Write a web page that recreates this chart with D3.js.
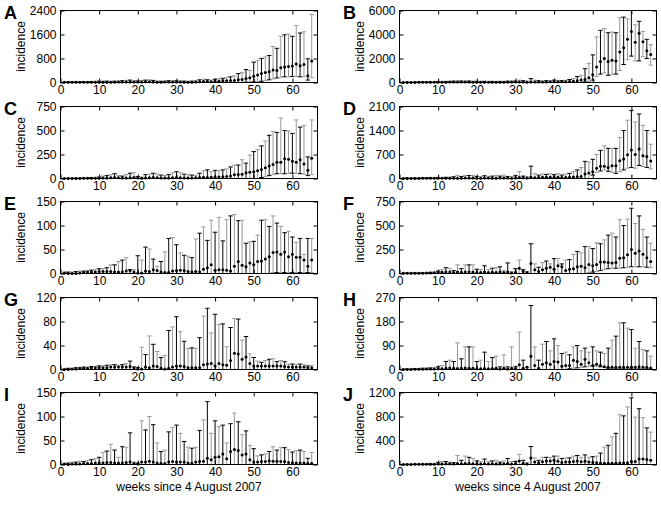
<!DOCTYPE html>
<html>
<head>
<meta charset="utf-8">
<script src="https://cdn.jsdelivr.net/npm/d3@7"></script>
<style>
  html, body { margin: 0; padding: 0; background: #fff; }
  svg { display: block; font-family: "Liberation Sans", Arial, sans-serif; }
</style>
</head>
<body>
<svg id="chart" width="661" height="515"></svg>
<script>
// ---------------- DATA ----------------
const weeks = [1,2,3,4,5,6,7,8,9,10,11,12,13,14,15,16,17,18,19,20,21,22,23,24,25,26,27,28,29,30,31,32,33,34,35,36,37,38,39,40,41,42,43,44,45,46,47,48,49,50,51,52,53,54,55,56,57,58,59,60,61,62,63,64,65];
const xTicks = [0,10,20,30,40,50,60];
const panelLabels = ["A","B","C","D","E","F","G","H","I","J"];
const yTicks = [
  [0,800,1600,2400], [0,2000,4000,6000],
  [0,250,500,750],   [0,700,1400,2100],
  [0,50,100,150],    [0,250,500,750],
  [0,40,80,120],     [0,90,180,270],
  [0,50,100,150],    [0,400,800,1200]
];
const yAxisTitle = "incidence";
const xAxisTitle = "weeks since 4 August 2007";

// Panel A
const ptA = [5,5,5,5,6,8,8,8,10,10, 10,10,12,12,15,15,18,20,15,15, 20,25,25,20,12,10,15,20,20,18, 15,12,10,12,15,25,35,30,25,40, 45,55,60,70,70,90,100,130,160,210, 250,300,330,360,415,400,490,515,530,550, 620,560,600,225,720];
const hiA = [20,20,20,25,25,30,30,35,40,45, 45,45,40,45,50,60,70,80,60,50, 70,80,90,70,50,40,50,60,60,55, 50,45,40,45,60,90,110,90,80,110, 120,140,170,190,220,300,330,430,400,680, 740,800,850,900,1200,1140,1540,1590,1610,1540, 1900,1650,1690,790,2270];
const loA = [0,0,0,0,0,0,0,0,0,0, 0,0,0,0,0,0,0,0,0,0, 0,0,0,0,0,0,0,0,0,0, 0,0,0,0,0,0,0,0,0,0, 0,0,0,0,0,0,5,10,15,20, 30,40,60,90,120,150,180,190,190,200, 200,190,190,80,160];
// Panel B
const ptB = [10,10,10,10,15,15,20,20,25,30, 30,30,35,35,40,40,40,35,30,30, 30,30,30,30,30,30,30,35,35,40, 40,35,30,50,40,40,45,50,55,60, 60,60,70,80,100,150,200,250,400,650, 1300,1750,2000,1750,1850,1800,2550,2900,3600,4250, 3350,4100,3400,2650,2330];
const hiB = [30,30,35,40,45,50,55,60,70,80, 90,90,100,110,130,120,130,120,110,100, 100,100,90,90,90,90,100,110,120,120, 200,150,120,320,200,150,120,150,150,200, 150,150,180,250,330,500,600,1150,1600,2300, 3800,4350,4500,4150,4200,4150,5400,5450,5300,6000, 4800,5100,4250,3600,3150];
const loB = [0,0,0,0,0,0,0,0,0,0, 0,0,0,0,0,0,0,0,0,0, 0,0,0,0,0,0,0,0,0,0, 0,0,0,0,0,0,0,0,0,0, 0,0,0,0,0,0,0,50,100,200, 500,700,800,600,650,700,1000,1500,1900,2200, 1800,1800,2150,2000,1450];
// Panel C
const ptC = [1,1,1,1,1,2,2,2,3,3, 5,6,8,10,8,6,5,8,10,4, 3,5,8,10,8,6,4,5,8,10, 8,6,5,5,8,10,12,10,12,15, 15,18,20,25,40,42,45,60,65,70, 80,95,113,130,145,170,170,205,200,180, 170,195,150,85,210];
const hiC = [3,3,4,4,5,6,8,10,12,15, 25,30,40,50,30,25,40,55,60,20, 15,40,45,55,45,35,30,40,60,70, 60,45,40,35,35,55,80,90,70,85, 80,90,100,120,140,140,195,160,245,280, 300,340,390,450,490,480,630,500,495,470, 610,535,550,225,610];
const loC = [0,0,0,0,0,0,0,0,0,0, 0,0,0,0,0,0,0,0,0,0, 0,0,0,0,0,0,0,0,0,0, 0,0,0,0,0,0,0,0,0,0, 0,0,0,0,0,0,0,0,0,0, 0,10,20,30,40,50,50,50,55,55, 55,50,45,30,40];
// Panel D
const ptD = [3,3,3,3,3,4,4,5,5,5, 6,6,8,8,10,10,12,12,12,10, 10,12,12,10,10,12,15,15,10,12, 30,20,15,40,25,30,35,40,40,35, 35,30,30,40,45,50,60,130,160,200, 300,355,355,320,375,375,520,570,690,830, 700,860,660,640,510];
const hiD = [15,15,15,15,18,20,20,25,25,30, 30,35,40,50,90,60,90,85,90,60, 60,80,60,70,90,70,100,60,60,80, 200,70,50,360,140,100,130,120,140,110, 140,100,130,150,200,250,320,500,480,560, 700,820,950,880,880,880,1200,1400,1700,1980, 1650,1880,1550,1400,1000];
const loD = [0,0,0,0,0,0,0,0,0,0, 0,0,0,0,0,0,0,0,0,0, 0,0,0,0,0,0,0,0,0,0, 0,0,0,0,0,0,0,0,0,0, 0,0,0,0,0,0,0,0,0,100, 180,220,250,210,180,150,200,250,300,320, 300,380,350,320,280];
// Panel E
const ptE = [1,0,0,0,1,2,3,3,3,4, 4,4,4,3,3,3,5,6,3,1, 1,5,4,8,6,3,2,2,5,6, 7,6,4,3,4,3,9,12,18,7, 8,8,7,5,15,25,17,14,22,18, 25,26,30,35,44,45,40,45,35,40, 34,34,28,15,28];
const hiE = [3,3,3,4,5,5,6,7,8,10, 10,12,18,18,25,28,33,8,8,37, 28,55,51,30,15,25,45,73,75,60, 43,38,36,33,72,84,97,69,111,86, 117,68,112,120,123,110,111,63,66,67, 80,111,112,98,120,105,98,85,88,76, 65,73,40,73,73];
const loE = [0,0,0,0,0,0,0,0,0,0, 0,0,0,0,0,0,0,0,0,0, 0,0,0,0,0,0,0,0,0,0, 0,0,0,0,0,0,0,0,0,0, 0,0,0,0,0,0,0,0,0,0, 0,0,0,0,2,2,2,2,2,2, 2,2,2,2,2];
// Panel F
const ptF = [2,2,2,2,3,3,4,5,8,10, 12,15,15,10,15,12,15,15,15,10, 10,15,10,12,10,15,10,15,5,10, 55,20,10,105,40,20,40,55,65,45, 80,70,30,45,50,70,75,60,95,80, 95,120,120,115,110,115,160,165,195,250, 210,235,200,165,125];
const hiF = [5,5,5,6,8,8,10,12,15,25, 40,60,55,30,90,50,90,90,90,45, 40,80,40,55,60,70,30,110,20,50, 140,40,20,310,100,65,115,130,100,155, 155,100,140,145,200,230,215,280,280,260, 320,310,350,400,420,380,560,500,565,680, 520,600,460,380,315];
const loF = [0,0,0,0,0,0,0,0,0,0, 0,0,0,0,0,0,0,0,0,0, 0,0,0,0,0,0,0,0,0,0, 0,0,0,0,0,0,0,0,0,0, 0,0,0,0,0,0,0,0,10,15, 20,30,40,50,55,55,55,60,65,70, 70,70,70,65,60];
// Panel G
const ptG = [0,0,1,1,2,2,2,3,3,3, 3,3,4,4,4,4,4,5,3,1, 1,4,3,6,5,2,1,2,4,6, 6,5,3,3,3,3,8,9,10,6, 10,8,7,15,27,26,17,21,10,6, 6,6,6,6,6,6,6,5,4,4, 4,4,4,3,3];
const hiG = [1,2,2,3,3,4,4,5,5,6, 6,7,8,8,7,8,10,14,5,3, 37,25,56,42,30,20,23,65,71,88, 63,47,35,36,35,53,89,102,61,92, 75,76,38,70,85,84,49,55,26,20, 14,12,15,17,18,13,15,13,9,9, 9,9,8,6,7];
const loG = [0,0,0,0,0,0,0,0,0,0, 0,0,0,0,0,0,0,0,0,0, 0,0,0,0,0,0,0,0,0,0, 0,0,0,0,0,0,0,0,0,0, 0,0,0,0,0,0,0,0,0,0, 0,0,0,0,0,0,0,0,0,0, 0,0,0,0,0];
// Panel H
const ptH = [0,0,0,1,1,1,2,2,2,3, 3,5,6,5,4,5,6,5,5,3, 3,4,3,4,5,2,5,2,5,3, 18,5,8,50,15,5,20,25,20,30, 28,12,15,15,35,30,20,38,25,15, 20,15,10,8,8,8,8,8,8,8, 8,10,8,8,6];
const hiH = [2,2,3,3,4,5,5,6,8,10, 15,30,35,30,100,40,85,85,85,30, 35,65,30,45,50,10,55,10,85,10, 140,35,10,240,85,35,95,105,70,115, 90,60,65,55,85,90,70,80,65,85, 70,65,60,80,110,125,175,175,155,150, 80,105,75,70,50];
const loH = [0,0,0,0,0,0,0,0,0,0, 0,0,0,0,0,0,0,0,0,0, 0,0,0,0,0,0,0,0,0,0, 0,0,0,0,0,0,0,0,0,0, 0,0,0,3,5,6,8,10,12,14, 12,10,8,5,3,2,2,2,2,2, 2,2,2,2,2];
// Panel I
const ptI = [1,0,1,1,1,2,2,2,3,3, 3,4,4,3,3,3,4,5,2,1, 5,5,7,5,3,2,2,5,6,5, 5,5,3,2,5,6,7,13,10,15, 16,22,12,27,31,29,20,22,10,5, 5,6,6,8,7,7,6,6,4,3, 3,3,3,2,2];
const hiI = [2,3,5,5,7,6,8,10,12,15, 25,28,42,30,15,37,35,66,5,3, 91,72,100,83,45,27,30,68,77,82, 65,48,36,34,36,71,93,131,65,91, 79,82,45,85,107,89,62,70,40,33, 18,20,22,27,37,30,36,35,31,26, 29,30,27,13,25];
const loI = [0,0,0,0,0,0,0,0,0,0, 0,0,0,0,0,0,0,0,0,0, 0,0,0,0,0,0,0,0,0,0, 0,0,0,0,0,0,0,0,0,0, 0,0,0,0,0,0,0,0,0,0, 0,0,0,0,0,0,0,0,0,0, 0,0,0,0,0];
// Panel J
const ptJ = [2,2,2,3,3,3,4,5,6,8, 10,12,12,10,15,12,15,15,12,10, 10,12,10,12,10,10,12,15,10,12, 60,20,10,110,40,30,45,60,60,70, 55,35,40,40,50,60,45,55,40,35, 30,25,20,20,20,20,25,25,30,50, 50,90,90,85,70];
const hiJ = [5,5,5,6,8,8,10,12,15,30, 50,50,40,30,150,70,140,120,100,60, 50,90,50,60,70,40,60,100,50,50, 170,70,30,300,110,70,120,120,115,140, 140,100,110,110,140,150,120,160,120,130, 140,190,290,320,460,520,830,810,960,1110, 790,930,780,610,540];
const loJ = [0,0,0,0,0,0,0,0,0,0, 0,0,0,0,0,0,0,0,0,0, 0,0,0,0,0,0,0,0,0,0, 0,0,0,0,0,0,0,0,0,0, 0,0,0,0,0,0,0,0,0,0, 0,0,0,0,0,0,0,0,0,0, 0,0,0,0,0];

const panels = [
  {pt: ptA, lo: loA, hi: hiA}, {pt: ptB, lo: loB, hi: hiB},
  {pt: ptC, lo: loC, hi: hiC}, {pt: ptD, lo: loD, hi: hiD},
  {pt: ptE, lo: loE, hi: hiE}, {pt: ptF, lo: loF, hi: hiF},
  {pt: ptG, lo: loG, hi: hiG}, {pt: ptH, lo: loH, hi: hiH},
  {pt: ptI, lo: loI, hi: hiI}, {pt: ptJ, lo: loJ, hi: hiJ}
];

// ---------------- LAYOUT ----------------
const colX = [60, 399];
const rowY = [10, 105.5, 201, 296.5, 392];
const plotW = 257, plotH = 72;
const GRAY = "#9a9a9a";
const FONT = "Liberation Sans, Arial, sans-serif";

const svg = d3.select("#chart");

panels.forEach((p, k) => {
  const col = k % 2, row = Math.floor(k / 2);
  const x0 = colX[col], y0 = Math.round(rowY[row]);
  const yt = yTicks[k];
  const ymax = yt[yt.length - 1];

  const x = d3.scaleLinear().domain([0, 66.5]).range([0, plotW]);
  const y = d3.scaleLinear().domain([0, ymax]).range([plotH, 0]);

  const g = svg.append("g").attr("transform", `translate(${x0 + 0.5},${y0 + 0.5})`);

  // error bars
  const bars = g.append("g");
  weeks.forEach((w, i) => {
    const c = (w % 2 === 1) ? GRAY : "#000";
    const xx = x(w);
    const yl = y(p.lo[i]), yh = y(p.hi[i]);
    bars.append("line").attr("x1", xx).attr("x2", xx).attr("y1", yl).attr("y2", yh)
      .attr("stroke", c).attr("stroke-width", 1);
    bars.append("line").attr("x1", xx - 2.2).attr("x2", xx + 2.2).attr("y1", yh).attr("y2", yh)
      .attr("stroke", c).attr("stroke-width", 1);
    bars.append("line").attr("x1", xx - 2.2).attr("x2", xx + 2.2).attr("y1", yl).attr("y2", yl)
      .attr("stroke", c).attr("stroke-width", 1);
  });
  g.append("g").selectAll("circle").data(weeks).join("circle")
    .attr("cx", w => x(w)).attr("cy", (w, i) => y(p.pt[i]))
    .attr("r", 1.5).attr("fill", "#000");

  // axes (inward ticks)
  const fmt = d3.format("d");
  const ax = g.append("g").attr("transform", `translate(0,${plotH})`)
    .call(d3.axisBottom(x).tickValues(xTicks).tickFormat(fmt).tickSizeInner(-4).tickSizeOuter(0).tickPadding(3));
  const ay = g.append("g")
    .call(d3.axisLeft(y).tickValues(yt).tickFormat(fmt).tickSizeInner(-4).tickSizeOuter(0).tickPadding(4));
  const at = g.append("g")
    .call(d3.axisTop(x).tickValues(xTicks).tickSizeInner(-4).tickSizeOuter(0).tickFormat(""));
  const ar = g.append("g").attr("transform", `translate(${plotW},0)`)
    .call(d3.axisRight(y).tickValues(yt).tickSizeInner(-4).tickSizeOuter(0).tickFormat(""));
  [ax, ay, at, ar].forEach(a => {
    a.select(".domain").remove();
    a.selectAll("text").attr("font-size", 12).attr("font-family", FONT).attr("fill", "#000");
    a.selectAll("line").attr("stroke", "#000");
  });

  // frame
  g.append("rect").attr("x", 0).attr("y", 0).attr("width", plotW).attr("height", plotH)
    .attr("fill", "none").attr("stroke", "#000").attr("stroke-width", 1);

  // y title
  g.append("text").attr("transform", `translate(-36,${plotH / 2}) rotate(-90)`)
    .attr("text-anchor", "middle").attr("font-size", 12).attr("font-family", FONT).text(yAxisTitle);

  // panel letter
  svg.append("text").attr("x", x0 - 56).attr("y", y0 + 9)
    .attr("font-size", 18).attr("font-weight", "bold").attr("font-family", FONT).text(panelLabels[k]);

  if (row === 4) {
    g.append("text").attr("x", plotW / 2).attr("y", plotH + 26)
      .attr("text-anchor", "middle").attr("font-size", 12).attr("font-family", FONT).text(xAxisTitle);
  }
});
</script>
</body>
</html>
